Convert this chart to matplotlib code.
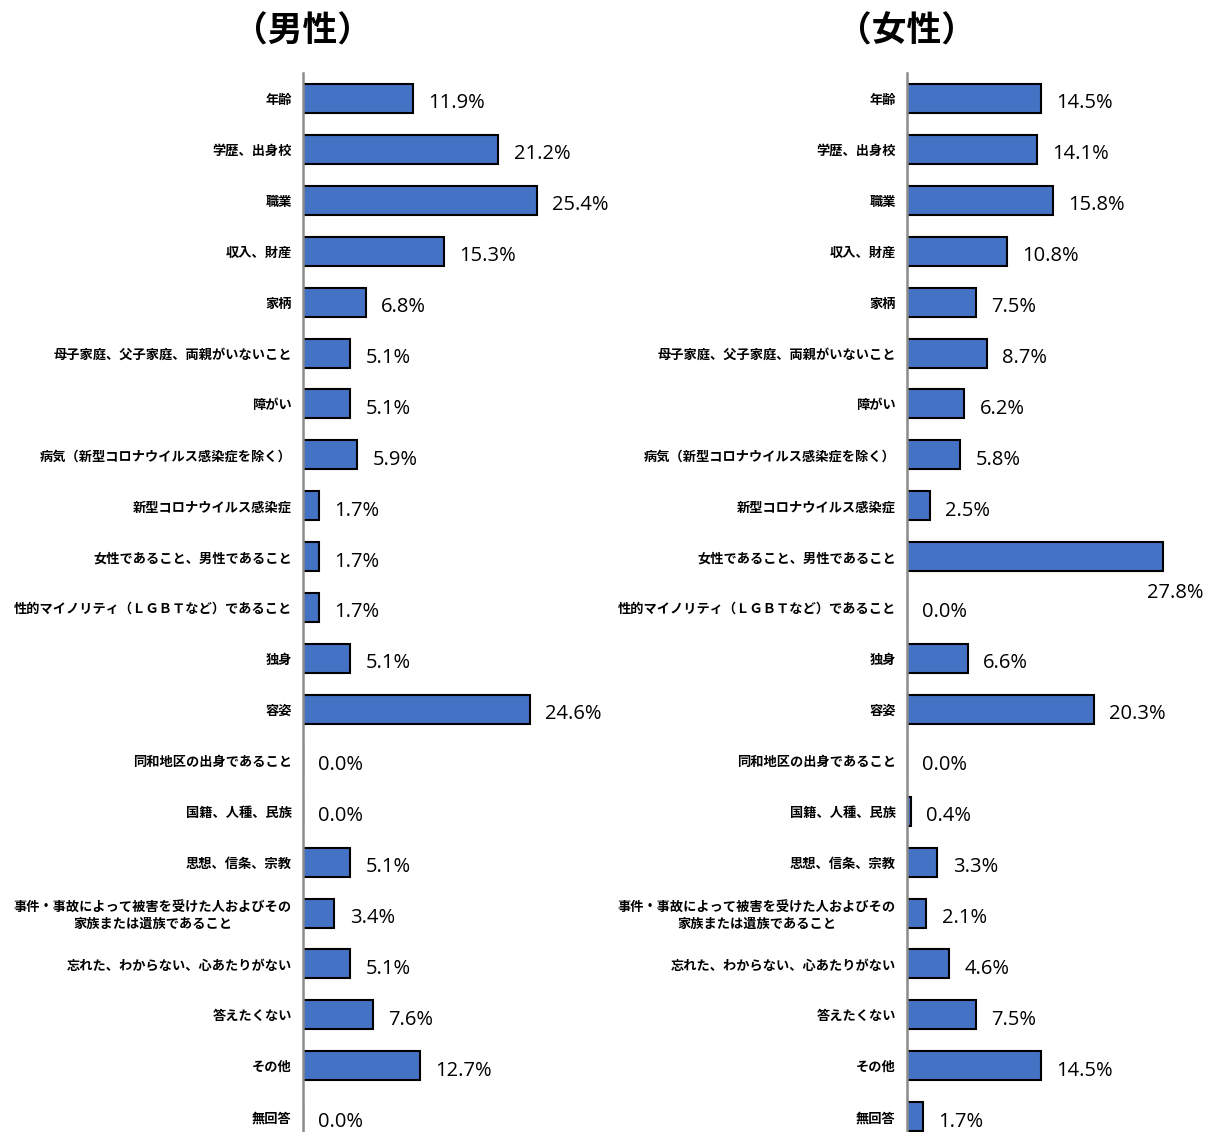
import matplotlib.pyplot as plt
import numpy as np

plt.rcParams['font.family'] = ['Noto Sans CJK JP', 'DejaVu Sans']

## data
categories = ['年齢', '学歴、出身校', '職業', '収入、財産', '家柄',
              '母子家庭、父子家庭、両親がいないこと', '障がい',
              '病気（新型コロナウイルス感染症を除く）', '新型コロナウイルス感染症',
              '女性であること、男性であること',
              '性的マイノリティ（ＬＧＢＴなど）であること', '独身', '容姿',
              '同和地区の出身であること', '国籍、人種、民族', '思想、信条、宗教',
              '事件・事故によって被害を受けた人およびその\n家族または遺族であること',
              '忘れた、わからない、心あたりがない', '答えたくない', 'その他', '無回答']
male = [11.9, 21.2, 25.4, 15.3, 6.8, 5.1, 5.1, 5.9, 1.7, 1.7, 1.7, 5.1, 24.6,
        0.0, 0.0, 5.1, 3.4, 5.1, 7.6, 12.7, 0.0]
female = [14.5, 14.1, 15.8, 10.8, 7.5, 8.7, 6.2, 5.8, 2.5, 27.8, 0.0, 6.6, 20.3,
          0.0, 0.4, 3.3, 2.1, 4.6, 7.5, 14.5, 1.7]
titles = ['（男性）', '（女性）']

## plot
W, H = 1206, 1132
fig = plt.figure(figsize=(W / 100, H / 100), dpi=100)
y = np.arange(len(categories))
xmax = 300 / 9.22

for i, (vals, title) in enumerate(zip([male, female], titles)):
    x0 = [303, 907][i]
    ax = fig.add_axes([x0 / W, 0, 300 / W, 1 - 73 / H])
    ax.barh(y, vals, height=0.57, color='#4472C4', edgecolor='black', linewidth=1.5)
    ax.set_xlim(0, xmax)
    ax.set_ylim(20.3, -0.5)
    ax.set_xticks([])
    ax.set_yticks(y)
    ax.set_yticklabels(categories, fontsize=9.5, fontweight='bold', multialignment='center')
    ax.tick_params(axis='y', length=0, pad=8)
    for s in ['top', 'right', 'bottom']:
        ax.spines[s].set_visible(False)
    ax.spines['left'].set_color('#8c8c8c')
    ax.spines['left'].set_linewidth(1.8)
    for yy, v in zip(y, vals):
        if v > 26:
            # does not fit beside the bar, drop it below the end
            ax.annotate(f'{v:.1f}%', (v, yy), xytext=(-12, -26), textcoords='offset points',
                        ha='left', va='center', fontsize=14.5, family=['Open Sans'],
                        annotation_clip=False)
        else:
            ax.annotate(f'{v:.1f}%', (v, yy), xytext=(11, -3.5), textcoords='offset points',
                        ha='left', va='center', fontsize=14.5, family=['Open Sans'],
                        annotation_clip=False)
    fig.text(x0 / W, 1 - 31 / H, title, ha='center', va='center', fontsize=25, fontweight='bold')

plt.savefig('out.png', dpi=100)
